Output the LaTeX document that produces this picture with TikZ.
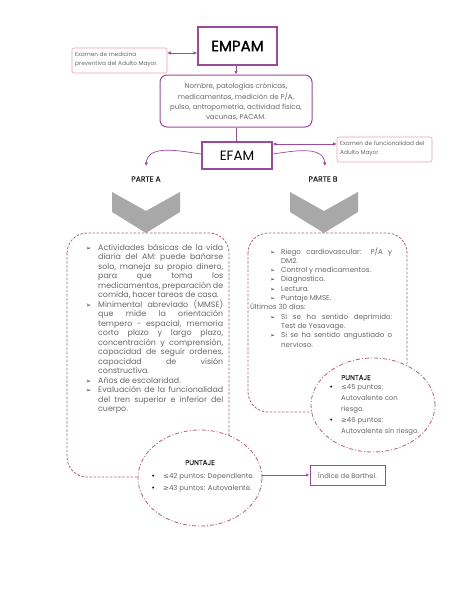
\documentclass[tikz,border=0pt]{standalone}
\usepackage{fontspec}
\setmainfont{Poppins}
\newfontfamily\popbold[FakeBold=1.2]{Poppins}
\newfontfamily\popsemi[FakeBold=0.6]{Poppins}
\newfontfamily\dejavu{DejaVu Sans}
\usetikzlibrary{arrows.meta,shapes.geometric}
\definecolor{purp}{HTML}{9C4A9C}
\definecolor{pinkln}{HTML}{E8A2B0}
\definecolor{dashc}{HTML}{B0607F}
\definecolor{txt}{HTML}{686868}
\definecolor{chev}{HTML}{A8A8A8}
\newcommand{\J}[1]{\makebox[\linewidth][s]{#1}}
\newcommand{\BL}{\leavevmode\llap{{\dejavu\fontsize{6.5}{5}\selectfont\color{black!80}➢}\hspace{7pt}}}
\newcommand{\BR}{\leavevmode\llap{{\dejavu\fontsize{6}{5}\selectfont\color{black!80}➢}\hspace{6pt}}}
\newcommand{\bdot}{\leavevmode\llap{{\dejavu\fontsize{6.5}{6}\selectfont\color{black}•}\hspace{8pt}}}
\newcommand{\sym}[1]{{\dejavu #1}}
\tikzset{
  x=1pt,y=-1pt,
  mainbox/.style={draw=purp,line width=1.6pt,minimum width=79pt,inner sep=0pt,text=black},
  note/.style={draw=pinkln,line width=0.6pt,rounded corners=2pt,inner sep=0pt,text=txt},
  infobox/.style={draw=purp,line width=1pt,rounded corners=7pt,inner sep=0pt,text=txt,align=center},
  dbox/.style={draw=dashc,line width=0.8pt,dash pattern=on 2.5pt off 1.6pt,rounded corners=20pt},
  dell/.style={draw=dashc,line width=0.8pt,dash pattern=on 4pt off 2pt on 1pt off 2pt,fill=white},
  arr/.style={draw=purp,line width=0.7pt,-{Latex[length=3.5pt,width=3.5pt]}},
  darr/.style={draw=purp,line width=0.7pt,{Latex[length=3.5pt,width=3.5pt]}-{Latex[length=3.5pt,width=3.5pt]}},
  plain/.style={inner sep=0pt,text=txt},
  head/.style={inner sep=0pt,text=black!85,font=\popsemi\fontsize{7.6}{7.6}\selectfont},
  chevr/.style={fill=chev,draw=none},
}
\begin{document}
\begin{tikzpicture}
\useasboundingbox[fill=white] (0,0) rectangle (474,614);
% EMPAM
\node[mainbox,minimum height=38pt,font=\popbold\fontsize{15}{15}\selectfont] (empam) at (237.5,46) {EMPAM};
\node[note,minimum width=95pt,minimum height=25pt] (n1) at (119.5,60.5) {};
\node[plain,anchor=base west,align=left,font=\fontsize{5.8}{8.8}\selectfont] (n1t) at (75,65.5) {Examen de medicina\\preventiva del Adulto Mayor.};
\draw[darr] (n1.east |- 0,53) coordinate (n1e) -- (empam.west |- n1e);
% info box
\node[infobox,minimum width=152pt,minimum height=52pt] (info) at (236,101) {};
\node[plain,align=center,font=\fontsize{7}{10.3}\selectfont] (infot) at (236,102) {Nombre, patologías crónicas,\\medicamentos, medición de P/A,\\pulso, antropometría, actividad física,\\vacunas, PACAM.};
\draw[arr] (empam.south -| info.north) -- (info.north);
% EFAM
\node[mainbox,minimum width=70pt,minimum height=27pt,font=\fontsize{13.5}{13.5}\selectfont] (efam) at (237,155.5) {EFAM};
\draw[draw=purp,line width=0.7pt] (info.south) -- (efam.north -| info.south);
\node[note,minimum width=95pt,minimum height=25pt] (n2) at (384.5,149.5) {};
\node[plain,anchor=base west,align=left,font=\fontsize{5.8}{9}\selectfont] (n2t) at (340,154.5) {Examen de funcionalidad del\\Adulto Mayor.};
\draw[darr] (efam.east |- 0,144) coordinate (ee) -- (n2.west |- ee);
% PARTE
\node[head] (pa) at (146,179) {PARTE A};
\node[head] (pb) at (323,179) {PARTE B};
\coordinate (pat) at (146,166);
\coordinate (pbt) at (325,166);
\draw[arr] (efam.west |- 0,154) to[out=172,in=85] (pat);
\draw[arr] (efam.east |- 0,154) to[out=8,in=95] (pbt);
% chevrons
\fill[chevr] (112,192) -- (146,211) -- (180,192) -- (180,212) -- (146,233) -- (112,212) -- cycle;
\fill[chevr] (290,192) -- (324,211) -- (358,192) -- (358,212) -- (324,233) -- (290,212) -- cycle;
% dashed boxes
\draw[dbox] (67,233) rectangle (229,477);
\draw[dbox] (248,233) rectangle (407,412);
% ellipses
\node[dell,ellipse,minimum width=124pt,minimum height=96pt,inner sep=0pt] (ea) at (200,478) {};
\node[dell,ellipse,minimum width=124pt,minimum height=94pt,inner sep=0pt] (eb) at (373,405) {};
% left text
\node[plain,anchor=base west] (lt) at (98,250) {\parbox[t]{125pt}{\fontsize{7.9}{9.5}\selectfont
\BL\J{Actividades básicas de la vida}\\
\J{diaria del AM: puede bañarse}\\
\J{solo, maneja su propio dinero,}\\
\J{para que toma los}\\
\J{medicamentos, preparación de}\\
comida, hacer tareas de casa.\\
\BL\J{Minimental abreviado (MMSE)}\\
\J{que mide la orientación}\\
\J{tempero - espacial, memoria}\\
\J{corto plazo y largo plazo,}\\
\J{concentración y comprensión,}\\
\J{capacidad de seguir ordenes,}\\
\J{capacidad de visión}\\
constructiva.\\
\BL Años de escolaridad.\\
\BL\J{Evaluación de la funcionalidad}\\
\J{del tren superior e inferior del}\\
cuerpo.}};
% right text
\node[plain,anchor=base west] (rt) at (281,254) {\parbox[t]{111pt}{\fontsize{7.1}{9.3}\selectfont
\BR\J{Riego cardiovascular: P/A y}\\
DM2.\\
\BR Control y medicamentos.\\
\BR Diagnostico.\\
\BR Lectura.\\
\BR Puntaje MMSE.\\
\hspace*{-31pt}Últimos 30 días:\\
\BR\J{Si se ha sentido deprimido:}\\
Test de Yesavage.\\
\BR\J{Si se ha sentido angustiado o}\\
nervioso.}};
% ellipse A text
\node[head,anchor=base,font=\popsemi\fontsize{7}{7}\selectfont] (pja) at (200,465) {PUNTAJE};
\node[plain,anchor=base west,align=left,font=\fontsize{7}{12}\selectfont] (eat) at (163,490) {\bdot\sym{≤}42 puntos: Dependiente.\\\bdot\sym{≥}43 puntos: Autovalente.};
% ellipse B text
\node[head,anchor=base,font=\popsemi\fontsize{7}{7}\selectfont] (pjb) at (356,380) {PUNTAJE};
\node[plain,anchor=base west,align=left,font=\fontsize{6.9}{11}\selectfont] (ebt) at (341,433) {\bdot\sym{≤}45 puntos:\\Autovalente con\\riesgo.\\\bdot\sym{≥}46 puntos:\\Autovalente sin riesgo.};
% Barthel
\node[draw=purp,line width=1pt,minimum width=75pt,minimum height=20pt,inner sep=0pt,text=txt,font=\fontsize{6.8}{6.8}\selectfont] (bart) at (347.5,475) {Índice de Barthel.};
\draw[arr] (ea.east |- 0,475) -- (bart.west);
\end{tikzpicture}
\end{document}
